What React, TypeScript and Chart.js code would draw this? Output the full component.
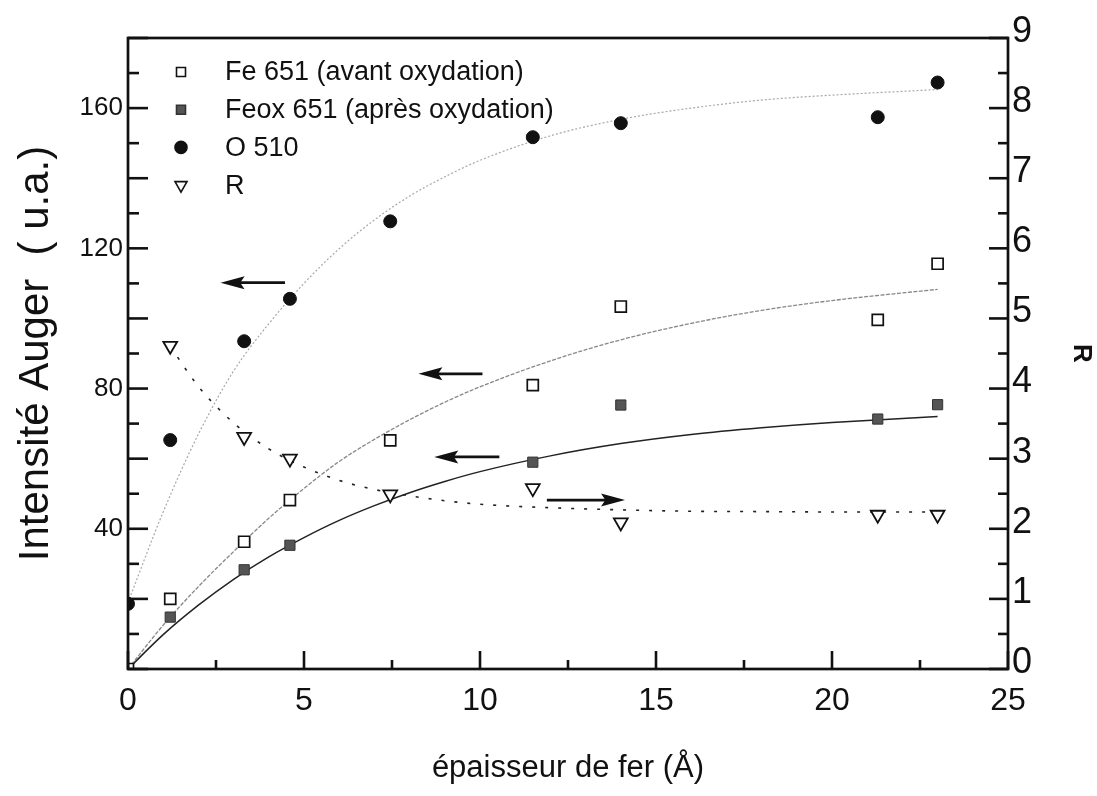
import React, { useEffect, useRef } from 'react';
import { Chart, registerables } from 'chart.js';

Chart.register(...registerables);

// ---- data ----
const thickness = [0, 1.2, 3.3, 4.6, 7.45, 11.5, 14, 21.3, 23];
const fe651 = [0, 20, 36.3, 48.2, 65.2, 81, 103.4, 99.6, 115.6];
const feox651 = [0, 14.8, 28.3, 35.3, null, 59, 75.3, 71.3, 75.4];
const o510 = [18.6, 65.3, 93.5, 105.6, 127.7, 151.7, 155.7, 157.4, 167.3];
const ratioR = [null, 4.61, 3.31, 3.0, 2.49, 2.58, 2.09, 2.2, 2.2];

// fitted curves
const fitThickness = [0, 1, 2, 3, 4, 5, 6, 7, 8, 9, 10, 12, 14, 16, 18, 20, 23];
const o510Fit = [19, 44.8, 67, 85, 98.5, 110, 119.9, 128.1, 134.9, 140.4, 145.1, 152.1, 156.8, 160, 162.3, 163.7, 165.3];
const fe651Fit = [0, 12.5, 23.5, 33.5, 43, 51.5, 59.2, 65.5, 71.1, 76.1, 80.5, 87.9, 93.9, 98.6, 102.3, 105.1, 108.3];
const feox651Fit = [0, 9.8, 18.2, 25.6, 32, 37.5, 42.4, 46.6, 50.3, 53.5, 56.3, 60.8, 64.3, 66.9, 68.8, 70.3, 72];
const ratioFitThickness = [1.2, 2, 3, 4, 5, 6, 7, 8, 9, 10, 12, 14, 16, 18, 20, 23];
const ratioFit = [4.6, 4.03, 3.51, 3.14, 2.88, 2.69, 2.56, 2.47, 2.4, 2.35, 2.3, 2.27, 2.25, 2.245, 2.24, 2.24];

// tick labels
const xTickLabels = [0, 5, 10, 15, 20, 25];
const leftTickLabels = [40, 80, 120, 160];
const rightTickLabels = [0, 1, 2, 3, 4, 5, 6, 7, 8, 9];

// arrows pointing to the axis each curve belongs to
const arrowFrom = [4.46, 10.07, 10.55, 11.9];
const arrowTo = [2.63, 8.25, 8.7, 14.12];
const arrowLevel = [110.2, 84.2, 60.5, 2.41];
const arrowAxis = ['y', 'y', 'y', 'y1'];

const FONT = '"Liberation Sans", Arial, Helvetica, sans-serif';

const pts = (xs: number[], ys: (number | null)[]) =>
  xs.map((x, i) => ({ x, y: ys[i] })).filter((p) => p.y !== null);

function drawMarker(ctx: CanvasRenderingContext2D, kind: string, x: number, y: number, fill: string, stroke: string, s: number) {
  ctx.save();
  ctx.fillStyle = fill;
  ctx.strokeStyle = stroke;
  ctx.lineWidth = 1.6;
  ctx.beginPath();
  if (kind === 'rect') {
    ctx.rect(x - s / 2, y - s / 2, s, s);
  } else if (kind === 'circle') {
    ctx.arc(x, y, s / 2, 0, Math.PI * 2);
  } else {
    const r = s / 1.732;
    ctx.moveTo(x - s / 2, y - r / 2);
    ctx.lineTo(x + s / 2, y - r / 2);
    ctx.lineTo(x, y + r);
    ctx.closePath();
  }
  ctx.fill();
  ctx.stroke();
  ctx.restore();
}

const decorPlugin = {
  id: 'decor',
  afterDatasetsDraw(chart: any) {
    const ctx = chart.ctx as CanvasRenderingContext2D;
    const xs = chart.scales.x;
    ctx.save();
    ctx.strokeStyle = '#111';
    ctx.fillStyle = '#111';
    ctx.lineWidth = 2.7;
    arrowFrom.forEach((from, i) => {
      const ys = chart.scales[arrowAxis[i]];
      const x1 = xs.getPixelForValue(from);
      const x2 = xs.getPixelForValue(arrowTo[i]);
      const y = ys.getPixelForValue(arrowLevel[i]);
      const dir = Math.sign(x2 - x1);
      const head = 24;
      const half = 6.5;
      ctx.beginPath();
      ctx.moveTo(x1, y);
      ctx.lineTo(x2 - dir * head * 0.8, y);
      ctx.stroke();
      ctx.beginPath();
      ctx.moveTo(x2, y);
      ctx.lineTo(x2 - dir * head, y - half);
      ctx.lineTo(x2 - dir * head * 0.82, y);
      ctx.lineTo(x2 - dir * head, y + half);
      ctx.closePath();
      ctx.fill();
    });
    ctx.restore();
  },
  afterDraw(chart: any) {
    const ctx = chart.ctx as CanvasRenderingContext2D;
    const a = chart.chartArea;
    const x = chart.scales.x;
    const y = chart.scales.y;
    const y1 = chart.scales.y1;
    ctx.save();
    ctx.strokeStyle = '#111';
    ctx.lineWidth = 2.7;
    ctx.lineCap = 'butt';
    ctx.strokeRect(a.left, a.top, a.right - a.left, a.bottom - a.top);
    const line = (x0: number, y0: number, x1: number, y1p: number) => {
      ctx.beginPath();
      ctx.moveTo(x0, y0);
      ctx.lineTo(x1, y1p);
      ctx.stroke();
    };
    ctx.lineWidth = 2.6;
    for (let v = 0; v <= 25.001; v += 2.5) {
      const px = x.getPixelForValue(v);
      const len = Math.abs(v % 5) < 0.01 ? 18 : 9;
      line(px, a.bottom, px, a.bottom - len);
    }
    for (let v = 0; v <= 180; v += 10) {
      const py = y.getPixelForValue(v);
      const len = v % 20 === 0 ? 20 : 11;
      line(a.left, py, a.left + len, py);
    }
    for (let v = 0; v <= 9.001; v += 0.5) {
      const py = y1.getPixelForValue(v);
      const len = Math.abs(v - Math.round(v)) < 0.01 ? 19 : 10;
      line(a.right, py, a.right - len, py);
    }
    // legend
    const entries = chart.data.datasets.filter((d: any) => d.inLegend);
    ctx.font = `27px ${FONT}`;
    ctx.fillStyle = '#111';
    ctx.textBaseline = 'middle';
    ctx.textAlign = 'left';
    entries.forEach((d: any, i: number) => {
      const cy = a.top + 34 + i * 37.7;
      drawMarker(ctx, d.marker, a.left + 53, cy, d.backgroundColor, d.borderColor, d.legendSize);
      ctx.fillStyle = '#111';
      ctx.fillText(d.label, a.left + 97, cy + 1);
    });
    ctx.restore();
  },
};

export default function App() {
  const ref = useRef<HTMLCanvasElement>(null);
  useEffect(() => {
    Chart.defaults.font.family = FONT;
    Chart.defaults.color = '#111';
    const chart = new Chart(ref.current as HTMLCanvasElement, {
      type: 'scatter',
      data: {
        datasets: [
          {
            label: 'Fe 651 (avant oxydation)',
            data: pts(thickness, fe651),
            yAxisID: 'y',
            pointStyle: 'rect',
            pointRadius: 7.8,
            backgroundColor: '#ffffff',
            borderColor: '#111',
            borderWidth: 1.7,
            inLegend: true,
            marker: 'rect',
            legendSize: 9,
          } as any,
          {
            label: 'Feox 651 (après oxydation)',
            data: pts(thickness, feox651),
            yAxisID: 'y',
            pointStyle: 'rect',
            pointRadius: 7.2,
            backgroundColor: '#555',
            borderColor: '#333',
            borderWidth: 1,
            inLegend: true,
            marker: 'rect',
            legendSize: 9,
          } as any,
          {
            label: 'O 510',
            data: pts(thickness, o510),
            yAxisID: 'y',
            pointStyle: 'circle',
            pointRadius: 6.5,
            backgroundColor: '#111',
            borderColor: '#111',
            borderWidth: 1,
            inLegend: true,
            marker: 'circle',
            legendSize: 12,
          } as any,
          {
            label: 'R',
            data: pts(thickness, ratioR),
            yAxisID: 'y1',
            pointStyle: 'triangle',
            rotation: 180,
            pointRadius: 8,
            backgroundColor: '#ffffff',
            borderColor: '#111',
            borderWidth: 1.8,
            inLegend: true,
            marker: 'triangle',
            legendSize: 12,
          } as any,
          {
            label: 'fit O 510',
            data: pts(fitThickness, o510Fit),
            yAxisID: 'y',
            showLine: true,
            pointRadius: 0,
            borderColor: '#a8a8a8',
            borderWidth: 1.2,
            borderDash: [2, 2],
            cubicInterpolationMode: 'monotone',
          } as any,
          {
            label: 'fit Fe 651',
            data: pts(fitThickness, fe651Fit),
            yAxisID: 'y',
            showLine: true,
            pointRadius: 0,
            borderColor: '#888',
            borderWidth: 1.3,
            borderDash: [4, 1.5],
            cubicInterpolationMode: 'monotone',
          } as any,
          {
            label: 'fit Feox 651',
            data: pts(fitThickness, feox651Fit),
            yAxisID: 'y',
            showLine: true,
            pointRadius: 0,
            borderColor: '#222',
            borderWidth: 1.5,
            cubicInterpolationMode: 'monotone',
          } as any,
          {
            label: 'fit R',
            data: pts(ratioFitThickness, ratioFit),
            yAxisID: 'y1',
            showLine: true,
            pointRadius: 0,
            borderColor: '#222',
            borderWidth: 1.6,
            borderDash: [3, 10],
            cubicInterpolationMode: 'monotone',
          } as any,
        ],
      },
      options: {
        animation: false,
        responsive: true,
        maintainAspectRatio: false,
        events: [],
        layout: { padding: { top: 38, left: 0, right: 0, bottom: 0 } },
        plugins: { legend: { display: false }, tooltip: { enabled: false } },
        scales: {
          x: {
            type: 'linear',
            min: 0,
            max: 25,
            grid: { display: false, drawTicks: false },
            border: { display: false },
            ticks: {
              stepSize: 5,
              padding: 13,
              font: { size: 32 },
              color: '#111',
              callback: (v: any) => (xTickLabels.includes(Number(v)) ? String(v) : ''),
            },
            title: {
              display: true,
              text: 'épaisseur de fer (Å)',
              font: { size: 31 },
              color: '#111',
              padding: { top: 0, bottom: 9 },
            },
            afterFit: (s: any) => {
              s.height = 127;
            },
          },
          y: {
            type: 'linear',
            position: 'left',
            min: 0,
            max: 180,
            grid: { display: false, drawTicks: false },
            border: { display: false },
            ticks: {
              stepSize: 40,
              padding: 5,
              font: { size: 26 },
              color: '#111',
              callback: (v: any) => (leftTickLabels.includes(Number(v)) ? String(v) : ''),
            },
            title: {
              display: true,
              text: 'Intensité Auger  ( u.a.)',
              font: { size: 42 },
              color: '#111',
              padding: { top: 11, bottom: 0 },
            },
            afterFit: (s: any) => {
              s.width = 128;
            },
          },
          y1: {
            type: 'linear',
            position: 'right',
            min: 0,
            max: 9,
            grid: { display: false, drawTicks: false },
            border: { display: false },
            ticks: {
              stepSize: 1,
              padding: 4,
              labelOffset: -6,
              font: { size: 36 },
              color: '#111',
              callback: (v: any) => (rightTickLabels.includes(Number(v)) ? String(v) : ''),
            },
            title: {
              display: true,
              text: 'R',
              font: { size: 26, weight: 'bold' },
              color: '#111',
              padding: { top: 0, bottom: 0 },
            },
            afterFit: (s: any) => {
              s.width = 89;
            },
          },
        },
      } as any,
      plugins: [decorPlugin],
    });
    return () => chart.destroy();
  }, []);
  return (
    <div style={{ position: 'fixed', left: 0, top: 0, width: 1097, height: 796, background: '#fff' }}>
      <canvas ref={ref} />
    </div>
  );
}
